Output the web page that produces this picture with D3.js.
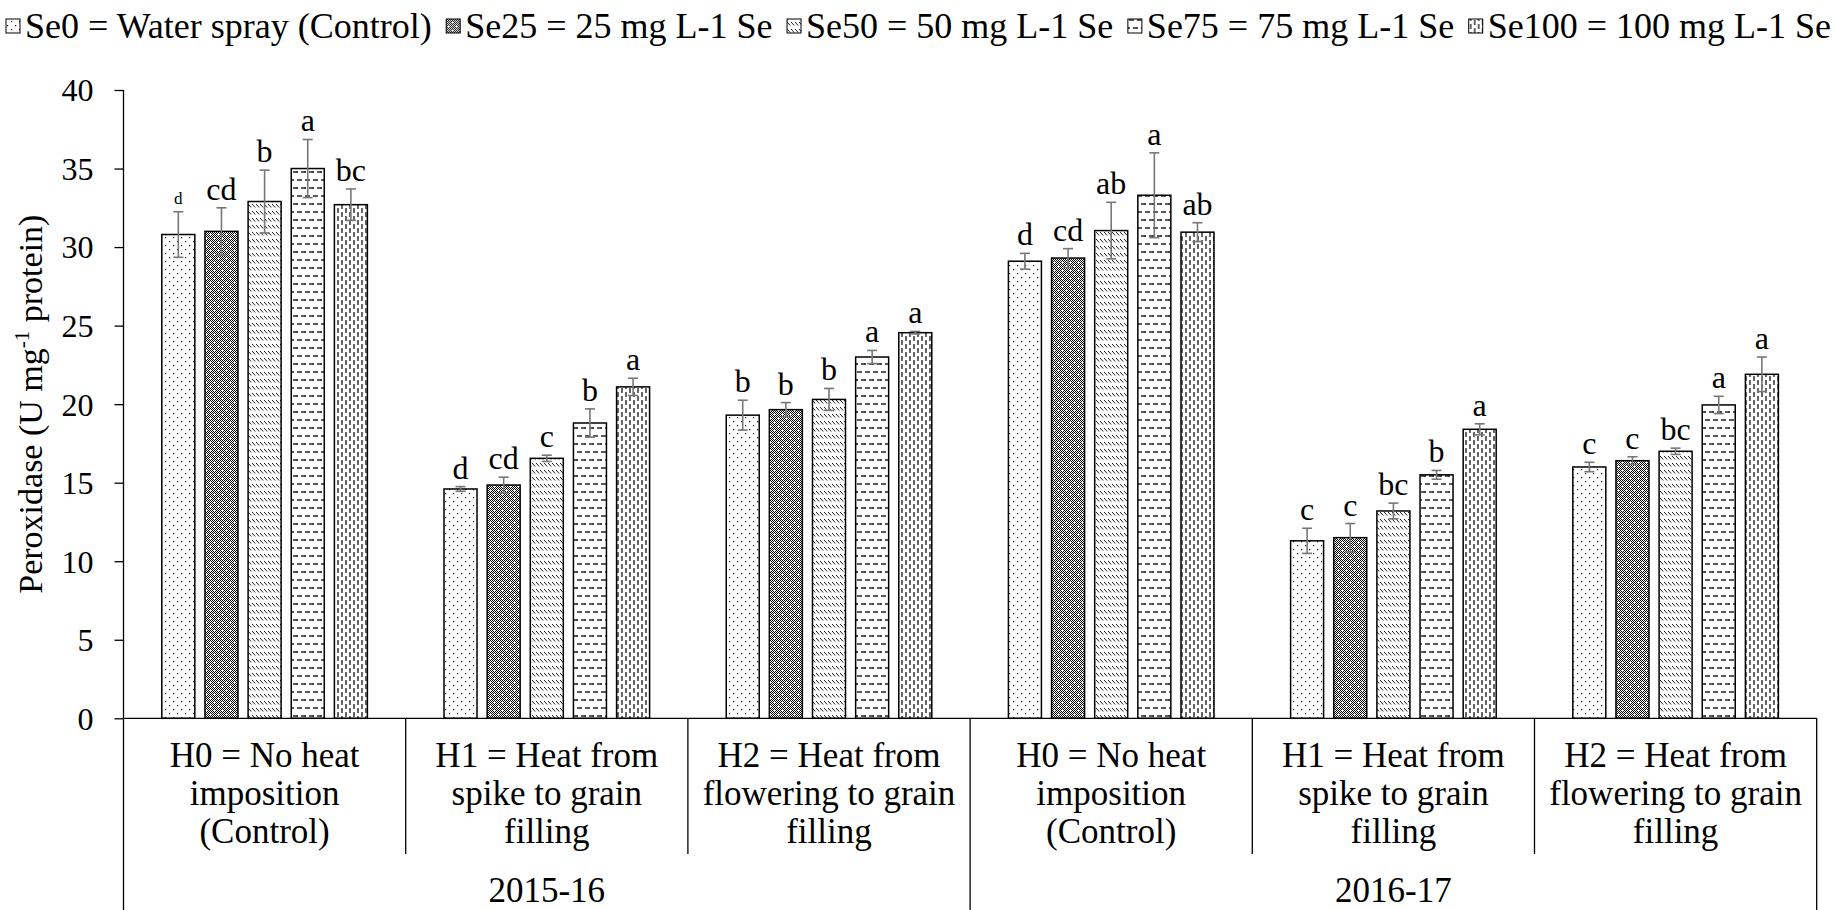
<!DOCTYPE html>
<html>
<head>
<meta charset="utf-8">
<script src="https://cdnjs.cloudflare.com/ajax/libs/d3/7.8.5/d3.min.js"></script>
<style>
  body { margin: 0; background: #fff; }
  svg text { font-family: "Liberation Serif", "Times New Roman", serif; fill: #000; }
</style>
</head>
<body>
<svg id="chart" width="1836" height="910"></svg>
<script>
// data
var series = ["Se0", "Se25", "Se50", "Se75", "Se100"];
var legendLabels = [
    "Se0 = Water spray (Control)",
    "Se25 = 25 mg L-1 Se",
    "Se50 = 50 mg L-1 Se",
    "Se75 = 75 mg L-1 Se",
    "Se100 = 100 mg L-1 Se"
];
var groups = ["15-H0", "15-H1", "15-H2", "16-H0", "16-H1", "16-H2"];
var groupLines = [
    ["H0 = No heat", "imposition", "(Control)"],
    ["H1 = Heat from", "spike to grain", "filling"],
    ["H2 = Heat from", "flowering to grain", "filling"],
    ["H0 = No heat", "imposition", "(Control)"],
    ["H1 = Heat from", "spike to grain", "filling"],
    ["H2 = Heat from", "flowering to grain", "filling"]
];
var years = ["2015-16", "2016-17"];
var yTicks = [0, 5, 10, 15, 20, 25, 30, 35, 40];

// bar means, one row per group, columns Se0..Se100
var values = [
    [30.8, 31.0, 32.9, 35.0, 32.7],
    [14.6, 14.85, 16.55, 18.8, 21.1],
    [19.3, 19.65, 20.3, 23.0, 24.55],
    [29.1, 29.3, 31.05, 33.3, 30.95],
    [11.3, 11.5, 13.2, 15.5, 18.4],
    [16.0, 16.4, 17.0, 19.95, 21.9]
];
var errors = [
    [1.45, 1.5, 2.0, 1.85, 1.0],
    [0.15, 0.5, 0.2, 0.9, 0.55],
    [0.95, 0.45, 0.7, 0.42, 0.08],
    [0.5, 0.6, 1.8, 2.7, 0.6],
    [0.8, 0.9, 0.5, 0.28, 0.35],
    [0.3, 0.25, 0.2, 0.55, 1.1]
];
var letters = [
    ["d", "cd", "b", "a", "bc"],
    ["d", "cd", "c", "b", "a"],
    ["b", "b", "b", "a", "a"],
    ["d", "cd", "ab", "a", "ab"],
    ["c", "c", "bc", "b", "a"],
    ["c", "c", "bc", "a", "a"]
];

var serif = "'Liberation Serif', 'Times New Roman', serif";
var svg = d3.select("#chart");
var plotLeft = 123.5, plotRight = 1816.7, plotTop = 90, plotBase = 718.3;

// patterns
var defs = svg.append("defs");

function pat(id, w, h) {
    return defs.append("pattern").attr("id", id)
        .attr("patternUnits", "userSpaceOnUse")
        .attr("width", w).attr("height", h);
}

var p0 = pat("p-Se0", 8, 8);
p0.append("rect").attr("width", 8).attr("height", 8).attr("fill", "#fff");
p0.append("rect").attr("x", 1).attr("y", 1).attr("width", 1.2).attr("height", 1.2).attr("fill", "#000");
p0.append("rect").attr("x", 5).attr("y", 5).attr("width", 1.2).attr("height", 1.2).attr("fill", "#000");

var p1 = pat("p-Se25", 8, 8);
p1.append("rect").attr("width", 8).attr("height", 8).attr("fill", "#fff");
for (var i = 0; i < 8; i++) {
    for (var j = 0; j < 8; j++) {
        if ((i + j) % 2 !== 0) continue;
        // white plus marks at (2,2) and (6,6)
        var white = [[2,2],[1,2],[3,2],[2,1],[2,3],[6,6],[5,6],[7,6],[6,5],[6,7]].some(function(p){ return p[0] === i && p[1] === j; });
        if (white) continue;
        p1.append("rect").attr("x", i).attr("y", j).attr("width", 1).attr("height", 1).attr("fill", "#000");
    }
}

var p2 = pat("p-Se50", 4, 7);
p2.append("rect").attr("width", 4).attr("height", 7).attr("fill", "#fff");
p2.append("line").attr("x1", 0).attr("y1", 1).attr("x2", 3.2).attr("y2", 4.5)
    .attr("stroke", "#000").attr("stroke-width", 0.9);

var p3 = pat("p-Se75", 8, 16);
p3.append("rect").attr("width", 8).attr("height", 16).attr("fill", "#fff");
p3.append("line").attr("x1", 1).attr("y1", 4).attr("x2", 6).attr("y2", 4).attr("stroke", "#000").attr("stroke-width", 1.3);
p3.append("line").attr("x1", 5).attr("y1", 12).attr("x2", 8).attr("y2", 12).attr("stroke", "#000").attr("stroke-width", 1.3);
p3.append("line").attr("x1", 0).attr("y1", 12).attr("x2", 2).attr("y2", 12).attr("stroke", "#000").attr("stroke-width", 1.3);

var p4 = pat("p-Se100", 8, 8);
p4.append("rect").attr("width", 8).attr("height", 8).attr("fill", "#fff");
p4.append("line").attr("x1", 2).attr("y1", 0).attr("x2", 2).attr("y2", 5).attr("stroke", "#000").attr("stroke-width", 1.2);
p4.append("line").attr("x1", 6).attr("y1", 4).attr("x2", 6).attr("y2", 8).attr("stroke", "#000").attr("stroke-width", 1.2);
p4.append("line").attr("x1", 6).attr("y1", 0).attr("x2", 6).attr("y2", 1).attr("stroke", "#000").attr("stroke-width", 1.2);

// scales
var x0 = d3.scaleBand().domain(groups).range([plotLeft, plotRight]).padding(0);
var x1 = d3.scaleBand().domain(series).range([0, x0.bandwidth()])
    .paddingInner(0.235).paddingOuter(0.888);
var y = d3.scaleLinear().domain([0, 40]).range([plotBase, plotTop]);

// y axis
var yAxis = svg.append("g").attr("transform", "translate(" + plotLeft + ",0)")
    .call(d3.axisLeft(y).tickValues(yTicks).tickSize(9).tickPadding(21))
    .attr("font-family", serif);
yAxis.select(".domain").remove();
yAxis.selectAll(".tick line").attr("stroke", "#000").attr("stroke-width", 1.3);
yAxis.selectAll(".tick text").style("font-size", "32px")
    .style("font-family", serif).attr("dy", "0.34em");

svg.append("line").attr("x1", plotLeft).attr("x2", plotLeft).attr("y1", plotTop).attr("y2", 910)
    .attr("stroke", "#000").attr("stroke-width", 1.3);

// y title
var yt = svg.append("text")
    .attr("transform", "translate(42," + ((plotTop + plotBase) / 2) + ") rotate(-90)")
    .attr("text-anchor", "middle").style("font-size", "34px").style("font-family", serif);
yt.append("tspan").text("Peroxidase (U mg");
yt.append("tspan").text("-1").attr("dy", -13).style("font-size", "21px");
yt.append("tspan").text(" protein)").attr("dy", 13);

// bars
var rows = [];
groups.forEach(function(g, gi) {
    series.forEach(function(s, si) {
        rows.push({ g: g, gi: gi, s: s, si: si, v: values[gi][si], e: errors[gi][si], l: letters[gi][si] });
    });
});

var barG = svg.append("g");
barG.selectAll("rect").data(rows).enter().append("rect")
    .attr("x", function(d) { return x0(d.g) + x1(d.s); })
    .attr("y", function(d) { return y(d.v); })
    .attr("width", x1.bandwidth())
    .attr("height", function(d) { return y(0) - y(d.v); })
    .attr("fill", function(d) { return "url(#p-" + d.s + ")"; })
    .attr("stroke", "#000").attr("stroke-width", 1.5);

// error bars
var errG = svg.append("g").attr("stroke", "#777").attr("stroke-width", 1.6);
rows.forEach(function(d) {
    var cx = x0(d.g) + x1(d.s) + x1.bandwidth() / 2;
    var yt1 = y(d.v + d.e), yb = y(d.v - d.e);
    errG.append("line").attr("x1", cx).attr("x2", cx).attr("y1", yt1).attr("y2", yb);
    errG.append("line").attr("x1", cx - 5).attr("x2", cx + 5).attr("y1", yt1).attr("y2", yt1);
    errG.append("line").attr("x1", cx - 5).attr("x2", cx + 5).attr("y1", yb).attr("y2", yb);
});

// significance letters
svg.append("g").selectAll("text").data(rows).enter().append("text")
    .attr("x", function(d) { return x0(d.g) + x1(d.s) + x1.bandwidth() / 2; })
    .attr("y", function(d) { return y(d.v + d.e) - 8; })
    .attr("text-anchor", "middle")
    .style("font-size", function(d) { return (d.gi === 0 && d.si === 0) ? "17px" : "32px"; })
    .text(function(d) { return d.l; });

// x axis baseline
svg.append("line").attr("x1", plotLeft).attr("x2", plotRight).attr("y1", plotBase).attr("y2", plotBase)
    .attr("stroke", "#000").attr("stroke-width", 1.3);

// separators
var sepG = svg.append("g").attr("stroke", "#000").attr("stroke-width", 1.3);
groups.forEach(function(g, gi) {
    if (gi === 0) return;
    var sx = x0(g);
    sepG.append("line").attr("x1", sx).attr("x2", sx).attr("y1", plotBase)
        .attr("y2", gi % 3 === 0 ? 910 : 854);
});
sepG.append("line").attr("x1", plotRight).attr("x2", plotRight).attr("y1", plotBase).attr("y2", 910);

// category labels
groups.forEach(function(g, gi) {
    var t = svg.append("text").attr("text-anchor", "middle").style("font-size", "35px");
    groupLines[gi].forEach(function(line, li) {
        t.append("tspan").attr("x", x0(g) + x0.bandwidth() / 2).attr("y", 767 + li * 38).text(line);
    });
});

// year labels
years.forEach(function(yr, yi) {
    var a = x0(groups[yi * 3]), b = x0(groups[yi * 3 + 2]) + x0.bandwidth();
    svg.append("text").attr("x", (a + b) / 2).attr("y", 902)
        .attr("text-anchor", "middle").style("font-size", "35px").text(yr);
});

// legend
var leg = svg.append("g");
var sw = 14, swGap = 5, legStart = 6, legEnd = 1831, legY = 38;
var items = series.map(function(s, i) {
    var g = leg.append("g");
    g.append("rect").attr("width", sw).attr("height", sw)
        .attr("fill", "url(#p-" + s + ")").attr("stroke", "#000").attr("stroke-width", 1);
    var t = g.append("text").attr("x", sw + swGap).attr("y", legY)
        .style("font-size", "36px").text(legendLabels[i]);
    return { g: g, w: sw + swGap + t.node().getComputedTextLength() };
});
var total = d3.sum(items, function(d) { return d.w; });
var gap = (legEnd - legStart - total) / (items.length - 1);
var cx = legStart;
items.forEach(function(it) {
    it.g.attr("transform", "translate(" + cx + ",0)");
    it.g.select("rect").attr("y", legY - 19);
    cx += it.w + gap;
});
</script>
</body>
</html>
